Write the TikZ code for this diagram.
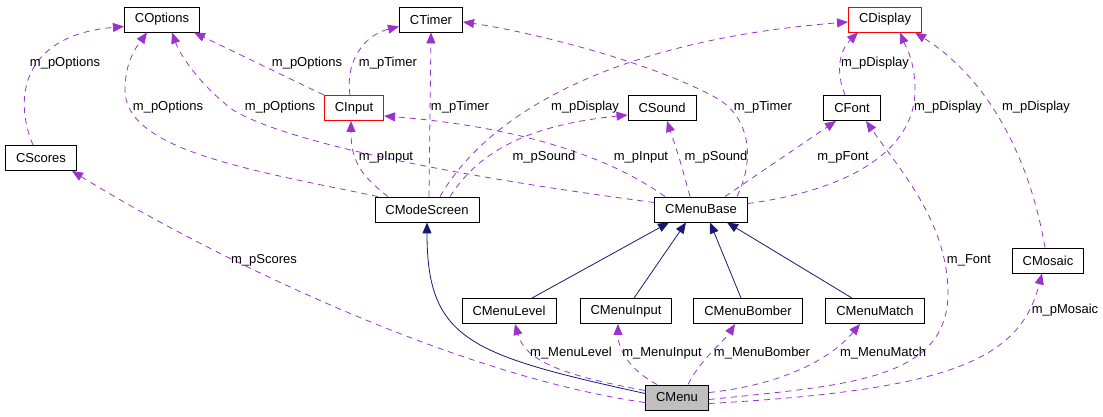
\documentclass[tikz,border=0pt]{standalone}
\usepackage{fontspec}
\setmainfont{Liberation Sans}
\usepackage{tikz}
\usetikzlibrary{arrows.meta}

\definecolor{usecol}{HTML}{9A32CD}
\definecolor{inhcol}{HTML}{191970}

\begin{document}
\begin{tikzpicture}[
  x=1pt, y=-1pt,
  font=\fontsize{13}{15}\selectfont,
  cls/.style={draw=black, fill=white, line width=0.9pt, minimum height=25pt,
    inner xsep=10.5pt, inner ysep=0pt},
  hot/.style={cls, draw=red},
  self/.style={cls, fill=black!25},
  uses/.style={draw=usecol, line width=0.8pt, dash pattern=on 6pt off 5pt,
    -{Triangle[length=11pt,width=9pt]}},
  inherit/.style={draw=inhcol, line width=0.8pt, -{Triangle[length=11pt,width=9pt]}},
  lbl/.style={inner sep=0pt}
]
\useasboundingbox (0,0) rectangle (1103,416);

% classes
\node[cls] (coptions) at (162,19.5) {COptions};
\node[cls] (ctimer) at (431,19.5) {CTimer};
\node[hot] (cdisplay) at (885,19.5) {CDisplay};
\node[hot] (cinput) at (354,108) {CInput};
\node[cls] (csound) at (662,108) {CSound};
\node[cls] (cfont) at (852,108) {CFont};
\node[cls] (cscores) at (41,158) {CScores};
\node[cls] (cmodescreen) at (427,209.5) {CModeScreen};
\node[cls] (cmenubase) at (701,209.5) {CMenuBase};
\node[cls] (cmosaic) at (1048,260.5) {CMosaic};
\node[cls] (cmenulevel) at (509,311) {CMenuLevel};
\node[cls] (cmenuinput) at (626,311) {CMenuInput};
\node[cls] (cmenubomber) at (748,311) {CMenuBomber};
\node[cls] (cmenumatch) at (875,311) {CMenuMatch};
\node[self] (cmenu) at (677,397.5) {CMenu};

% inheritance
\draw[inherit] ([yshift=4pt]cmenu.west) .. controls (470,355) and (427,340) .. (cmodescreen.south);
\draw[inherit] ([xshift=23pt]cmenulevel.north) -- ([xshift=-32pt]cmenubase.south);
\draw[inherit] ([xshift=8pt]cmenuinput.north) -- ([xshift=-15pt]cmenubase.south);
\draw[inherit] ([xshift=-7pt]cmenubomber.north) -- ([xshift=9pt]cmenubase.south);
\draw[inherit] ([xshift=-23pt]cmenumatch.north) -- ([xshift=26pt]cmenubase.south);

% members
\draw[uses] ([xshift=-8pt]cscores.north) .. controls (12,95) and (25,35) .. ([yshift=-7pt]coptions.west);
\draw[uses] ([xshift=-49pt]cmodescreen.north) .. controls (250,170) and (125,150) .. (125,90)
  .. controls (125,60) and (138,45) .. ([xshift=-15pt]coptions.south);
\draw[uses] ([yshift=7pt]cmenubase.west) .. controls (520,185) and (300,150) .. (233,110)
  .. controls (200,85) and (180,55) .. ([xshift=10pt]coptions.south);
\draw[uses] (cinput.north west) -- ([xshift=32pt]coptions.south);
\draw[uses] ([xshift=-4pt]cinput.north) .. controls (345,60) and (365,35) .. ([yshift=-7pt]ctimer.west);
\draw[uses] ([xshift=2pt]cmodescreen.north) -- (ctimer.south);
\draw[uses] ([xshift=36pt]cmenubase.north) .. controls (755,160) and (750,120) .. (720,100)
  .. controls (650,60) and (520,30) .. ([yshift=-2.5pt]ctimer.east);
\draw[uses] ([xshift=13pt]cmodescreen.north) .. controls (490,110) and (620,40) .. ([yshift=-2.5pt]cdisplay.west);
\draw[uses] ([xshift=-39pt]cmodescreen.north) .. controls (360,175) and (351,160) .. ([xshift=-3pt]cinput.south);
\draw[uses] ([xshift=23pt]cmodescreen.north) .. controls (480,150) and (530,125) .. ([yshift=-7pt]csound.west);
\draw[uses] ([xshift=-36pt]cmenubase.north) .. controls (600,150) and (500,125) .. ([yshift=-8pt]cinput.east);
\draw[uses] ([xshift=-11pt]cmenubase.north) .. controls (680,160) .. ([xshift=5pt]csound.south);
\draw[uses] ([xshift=24pt]cmenubase.north) -- ([xshift=-16pt]cfont.south);
\draw[uses] ([yshift=6pt]cmenubase.east) .. controls (850,190) and (915,150) .. (915,90)
  .. controls (915,60) and (905,45) .. ([xshift=15pt]cdisplay.south);
\draw[uses] ([xshift=-7pt]cfont.north) .. controls (835,70) and (840,50) .. ([xshift=-27pt]cdisplay.south);
\draw[uses] ([xshift=-3pt]cmosaic.north) .. controls (1030,160) and (990,80) .. ([xshift=30pt]cdisplay.south);
\draw[uses] ([yshift=-5pt]cmenu.west) .. controls (450,375) and (200,250) .. ([xshift=31pt]cscores.south);
\draw[uses] ([yshift=7pt]cmenu.west) .. controls (560,375) and (525,360) .. ([xshift=6pt]cmenulevel.south);
\draw[uses] ([xshift=-20pt]cmenu.north) .. controls (630,370) and (618,350) .. ([xshift=-8pt]cmenuinput.south);
\draw[uses] ([xshift=11pt]cmenu.north) .. controls (700,360) and (725,340) .. ([xshift=-13pt]cmenubomber.south);
\draw[uses] ([yshift=5pt]cmenu.east) .. controls (780,385) and (830,360) .. ([xshift=-15pt]cmenumatch.south);
\draw[uses] ([yshift=-2pt]cmenu.east) .. controls (850,385) and (950,380) .. (948,290)
  .. controls (946,220) and (900,170) .. ([xshift=14pt]cfont.south);
\draw[uses] ([yshift=-6pt]cmenu.east) .. controls (950,390) and (1020,360) .. ([xshift=-6pt]cmosaic.south);

% member names
\node[lbl] (lscopt) at (65,63) {m\_pOptions};
\node[lbl] (lmsopt) at (168,107) {m\_pOptions};
\node[lbl] (lmbopt) at (280,107) {m\_pOptions};
\node[lbl] (linopt) at (307,63) {m\_pOptions};
\node[lbl] (lintim) at (388,63) {m\_pTimer};
\node[lbl] (lmstim) at (460,107) {m\_pTimer};
\node[lbl] (lmbtim) at (763,107) {m\_pTimer};
\node[lbl] (lmsdis) at (585,107) {m\_pDisplay};
\node[lbl] (lfodis) at (875,63) {m\_pDisplay};
\node[lbl] (lmbdis) at (948,107) {m\_pDisplay};
\node[lbl] (lmodis) at (1036,107) {m\_pDisplay};
\node[lbl] (lmsinp) at (386,157) {m\_pInput};
\node[lbl] (lmssnd) at (544,157) {m\_pSound};
\node[lbl] (lmbinp) at (641,157) {m\_pInput};
\node[lbl] (lmbsnd) at (716,157) {m\_pSound};
\node[lbl] (lmbfnt) at (843,157) {m\_pFont};
\node[lbl] (lscore) at (264,260) {m\_pScores};
\node[lbl] (lfont) at (969,260) {m\_Font};
\node[lbl] (lmosaic) at (1065,310) {m\_pMosaic};
\node[lbl] (llevel) at (571,353) {m\_MenuLevel};
\node[lbl] (linput) at (662,353) {m\_MenuInput};
\node[lbl] (lbomber) at (762,353) {m\_MenuBomber};
\node[lbl] (lmatch) at (883,353) {m\_MenuMatch};
\end{tikzpicture}
\end{document}
